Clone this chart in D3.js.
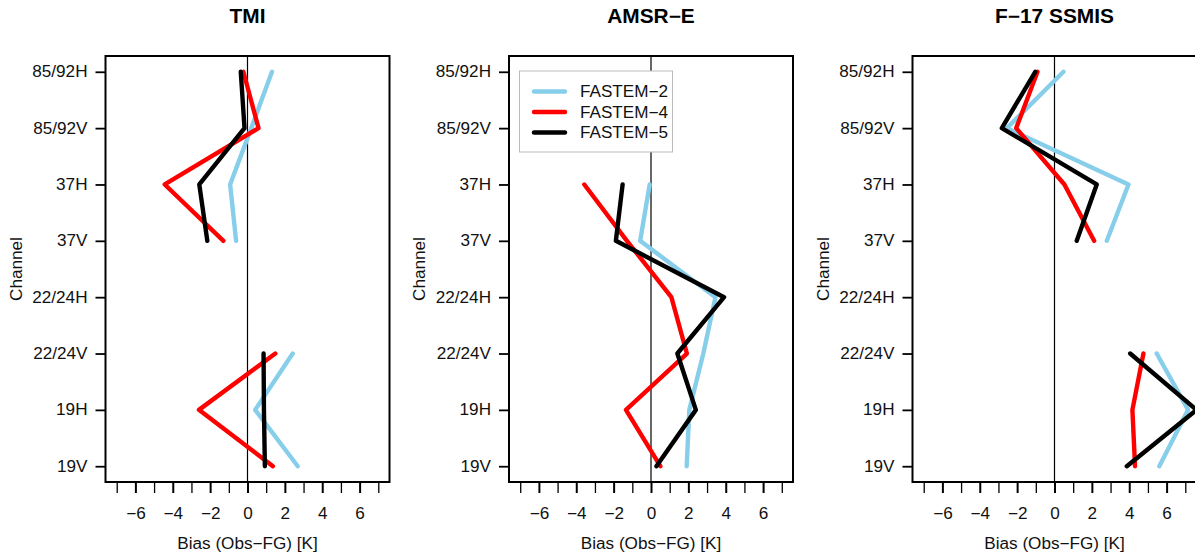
<!DOCTYPE html>
<html>
<head>
<meta charset="utf-8">
<script src="https://cdn.jsdelivr.net/npm/d3@7"></script>
<style>
  html, body { margin: 0; padding: 0; background: #fff; }
  svg { display: block; font-family: "Liberation Sans", Arial, sans-serif; }
</style>
</head>
<body>
<svg id="chart" width="1195" height="555"></svg>
<script>
// ---- data ----
const channels = ["19V", "19H", "22/24V", "22/24H", "37V", "37H", "85/92V", "85/92H"];
const instruments = ["TMI", "AMSR\u2212E", "F\u221217 SSMIS"];
const seriesNames = ["FASTEM\u22122", "FASTEM\u22124", "FASTEM\u22125"];
const seriesColors = ["#87CEEB", "#FF0000", "#000000"];
const xTicks = [-7, -6, -5, -4, -3, -2, -1, 0, 1, 2, 3, 4, 5, 6, 7];
const xTickLabels = [-6, -4, -2, 0, 2, 4, 6];

// values per channel (order as channels), null = no data
const tmiF2 = [2.69, 0.41, 2.42, null, -0.61, -0.93, 0.20, 1.31];
const tmiF4 = [1.36, -2.60, 1.49, null, -1.29, -4.43, 0.59, -0.22];
const tmiF5 = [0.93, 0.88, 0.86, null, -2.15, -2.58, -0.16, -0.36];
const amsrF2 = [1.91, 2.05, 2.80, 3.45, -0.58, -0.07, null, null];
const amsrF4 = [0.50, -1.34, 1.92, 1.09, -1.29, -3.57, null, null];
const amsrF5 = [0.29, 2.40, 1.41, 3.91, -1.88, -1.52, null, null];
const ssmisF2 = [5.61, 7.15, 5.47, null, 2.80, 3.96, -2.55, 0.48];
const ssmisF4 = [4.31, 4.17, 4.76, null, 2.12, 0.53, -2.05, -0.91];
const ssmisF5 = [3.87, 7.60, 4.05, null, 1.19, 2.26, -2.82, -1.03];

const panelData = [
  [tmiF2, tmiF4, tmiF5],
  [amsrF2, amsrF4, amsrF5],
  [ssmisF2, ssmisF4, ssmisF5]
];

// ---- layout ----
const svg = d3.select("#chart");
const boxTop = 56, boxBottom = 482, boxW = 284, gap = 403.5, firstLeft = 105.5;
const fs = 16;

const y = d3.scaleLinear().domain([-0.28, 7.28]).range([boxBottom, boxTop]);

instruments.forEach((name, p) => {
  const left = firstLeft + p * gap;
  const x = d3.scaleLinear().domain([-7.6, 7.6]).range([left, left + boxW]);
  const g = svg.append("g");

  const clipId = "clip" + p;
  svg.append("clipPath").attr("id", clipId)
    .append("rect").attr("x", left).attr("y", boxTop).attr("width", boxW).attr("height", boxBottom - boxTop);

  // title
  g.append("text").attr("x", x(0)).attr("y", 23)
    .attr("text-anchor", "middle").attr("font-weight", "bold").attr("font-size", 19.5)
    .attr("class", "stretch").text(name);

  // zero line
  g.append("line").attr("x1", x(0)).attr("x2", x(0)).attr("y1", boxTop).attr("y2", boxBottom)
    .attr("stroke", "#000").attr("stroke-width", 1.2);

  // series lines
  const lineGen = d3.line()
    .defined(d => d != null)
    .x(d => x(d))
    .y((d, i) => y(i));
  const lg = g.append("g").attr("clip-path", `url(#${clipId})`);
  panelData[p].forEach((vals, s) => {
    lg.append("path").datum(vals)
      .attr("d", lineGen)
      .attr("fill", "none")
      .attr("stroke", seriesColors[s])
      .attr("stroke-width", 4.4)
      .attr("stroke-linecap", "round")
      .attr("stroke-linejoin", "round");
  });

  // box
  g.append("rect").attr("x", left).attr("y", boxTop).attr("width", boxW).attr("height", boxBottom - boxTop)
    .attr("fill", "none").attr("stroke", "#000").attr("stroke-width", 2);

  // y axis
  const yAxis = d3.axisLeft(y).tickValues(d3.range(channels.length))
    .tickFormat(i => channels[i]).tickSize(10).tickPadding(8);
  const ya = g.append("g").attr("transform", `translate(${left},0)`).call(yAxis);
  ya.select(".domain").remove();
  ya.selectAll(".tick line").attr("stroke-width", 1.8);
  ya.selectAll(".tick text").attr("font-size", fs).attr("fill", "#111").attr("class", "stretch")
    .attr("font-family", "Liberation Sans, Arial, sans-serif");

  // x axis
  const xAxis = d3.axisBottom(x).tickValues(xTicks)
    .tickFormat(d => xTickLabels.includes(d) ? d3.format("")(d) : "")
    .tickSize(11).tickPadding(15);
  const xa = g.append("g").attr("transform", `translate(0,${boxBottom})`).call(xAxis);
  xa.select(".domain").remove();
  xa.selectAll(".tick line")
    .attr("stroke-width", d => xTickLabels.includes(d) ? 2 : 1.3);
  xa.selectAll(".tick text").attr("font-size", fs).attr("fill", "#111").attr("class", "stretch")
    .attr("font-family", "Liberation Sans, Arial, sans-serif");

  // axis titles
  g.append("text").attr("x", x(0)).attr("y", 549).attr("text-anchor", "middle")
    .attr("font-size", fs).attr("fill", "#111").attr("class", "stretch").text("Bias (Obs\u2212FG) [K]");
  g.append("text")
    .attr("transform", `translate(${left - 84},${(boxTop + boxBottom) / 2}) rotate(-90)`)
    .attr("text-anchor", "middle").attr("font-size", fs).attr("fill", "#111")
    .attr("class", "stretch").text("Channel");

  // legend in the second panel
  if (p === 1) {
    const lgd = g.append("g");
    lgd.append("rect").attr("x", 519.5).attr("y", 71).attr("width", 153).attr("height", 81)
      .attr("fill", "#fff").attr("stroke", "#bbb").attr("stroke-width", 1);
    seriesNames.forEach((s, i) => {
      const ly = 91.5 + i * 20.5;
      lgd.append("line").attr("x1", 534).attr("x2", 565).attr("y1", ly).attr("y2", ly)
        .attr("stroke", seriesColors[i]).attr("stroke-width", 4.4).attr("stroke-linecap", "round");
      lgd.append("text").attr("x", 580).attr("y", ly + 5.8).attr("font-size", fs)
        .attr("fill", "#111").attr("class", "stretch").text(s);
    });
  }
});

// slight horizontal widening of text to match the reference's glyph proportions
svg.selectAll("text.stretch").each(function () {
  const len = this.getComputedTextLength();
  if (len > 0) {
    d3.select(this).attr("textLength", len * 1.07).attr("lengthAdjust", "spacingAndGlyphs");
  }
});
</script>
</body>
</html>
